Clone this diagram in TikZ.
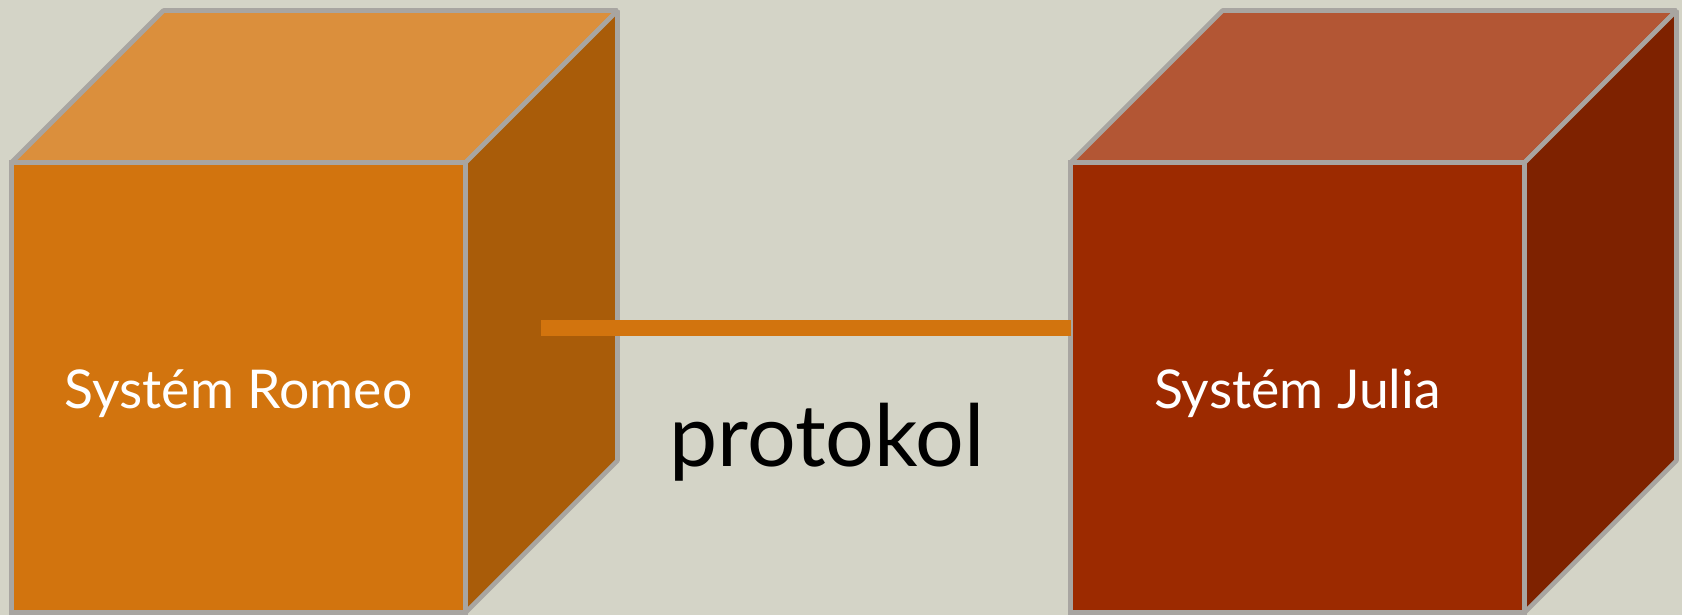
\documentclass[tikz,border=0pt]{standalone}
\usepackage{fontspec}
\setmainfont{Lato}
\usetikzlibrary{calc}
\definecolor{bg}{RGB}{212,212,199}
\definecolor{edge}{RGB}{168,165,161}
\definecolor{rfront}{RGB}{210,116,14}
\definecolor{rtop}{RGB}{219,143,60}
\definecolor{rside}{RGB}{169,92,9}
\definecolor{jfront}{RGB}{156,42,0}
\definecolor{jtop}{RGB}{179,86,52}
\definecolor{jside}{RGB}{126,34,0}
\tikzset{
  front/.style={draw=edge,line width=4.6pt,rectangle,inner sep=0pt,outer sep=0pt,
    minimum width=454pt,minimum height=450pt},
  face/.style={draw=edge,line width=4.6pt,line join=bevel},
  link/.style={draw=rfront,line width=16pt},
  cubetext/.style={text=white,font=\fontsize{53.5pt}{60pt}\selectfont,anchor=base,inner sep=0pt},
  lbl/.style={font=\fontsize{86pt}{96pt}\selectfont,text=black,inner sep=0pt}
}
\begin{document}
\begin{tikzpicture}[x=1pt,y=-1pt]
\fill[bg] (0,0) rectangle (1682,615);
\useasboundingbox (0,0) rectangle (1682,615);
% Romeo cube
\node[front,fill=rfront] (romeo) at (238.5,387.5) {};
\path[face,fill=rtop] (romeo.north west) -- ++(152,-152) -- ++(454,0) -- (romeo.north east) -- cycle;
\path[face,fill=rside] (romeo.north east) -- ++(152,-152) -- ++(0,450) -- (romeo.south east) -- cycle;
\node[cubetext] (romeotxt) at (238.5,408.7) {Systém Romeo};
% Julia cube
\node[front,fill=jfront] (julia) at (1297.5,387.5) {};
\path[face,fill=jtop] (julia.north west) -- ++(152,-152) -- ++(454,0) -- (julia.north east) -- cycle;
\path[face,fill=jside] (julia.north east) -- ++(152,-152) -- ++(0,450) -- (julia.south east) -- cycle;
\node[cubetext] (juliatxt) at (1297.5,408.7) {Systém Julia};
% connector
\coordinate (ls) at (541,328);
\draw[link] (ls) -- (ls -| julia.west);
\node[lbl,anchor=base west] (proto) at (669,466.6) {protokol};
\end{tikzpicture}
\end{document}
